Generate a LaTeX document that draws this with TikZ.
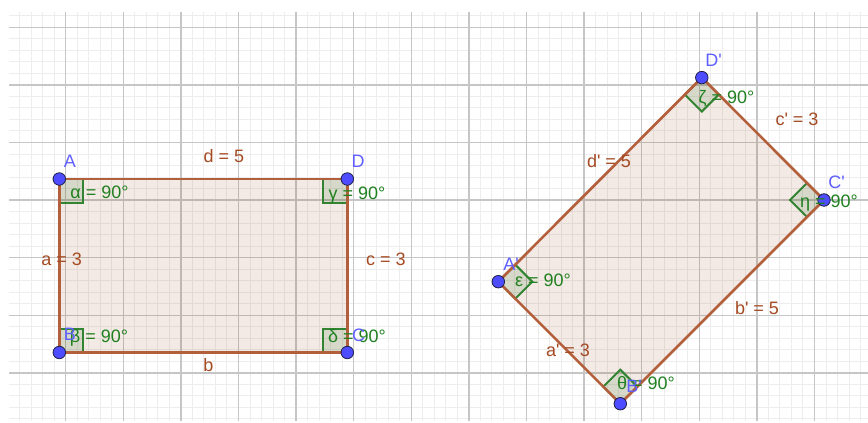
\documentclass[tikz,border=0pt]{standalone}
\usepackage{fontspec}
\setmainfont{Liberation Sans}
\newcommand\apo{\textquotesingle}
\definecolor{gridmaj}{RGB}{198,198,198}
\definecolor{gridmin}{RGB}{237,237,237}
\definecolor{polybrown}{RGB}{153,51,0}
\definecolor{edgebrown}{RGB}{180,95,60}
\definecolor{lbrown}{RGB}{165,75,35}
\definecolor{agreen}{RGB}{0,100,0}
\definecolor{astroke}{RGB}{50,132,50}
\definecolor{lgreen}{RGB}{32,128,32}
\definecolor{ptblue}{RGB}{77,77,255}
\definecolor{lblue}{RGB}{95,95,255}
\tikzset{
  gridminor/.style={draw=gridmin,line width=1pt},
  gridmajor/.style={draw=gridmaj,line width=1.4pt},
  polyfill/.style={fill=polybrown,fill opacity=0.1,draw=none},
  edge/.style={draw=edgebrown,line width=2.6pt,line join=round},
  anglesq/.style={draw=astroke,line width=2pt,fill=agreen,fill opacity=0.12,line join=miter},
  pt/.style={circle,fill=ptblue,draw={rgb,255:red,30;green,30;blue,70},line width=0.8pt,minimum size=12.5pt,inner sep=0pt},
  sidelbl/.style={text=lbrown,anchor=base,inner sep=0pt},
  anglelbl/.style={text=lgreen,anchor=base,inner sep=0pt},
  ptlbl/.style={text=lblue,anchor=base,inner sep=0pt}
}
\begin{document}
\begin{tikzpicture}[x=1pt,y=-1pt,font=\fontsize{18}{20}\selectfont]
\useasboundingbox (0,0) rectangle (868,423);
\fill[white] (0,0) rectangle (868,423);
% grid
\foreach \i in {-4,...,69}{\draw[gridminor] ({65.7+11.52*\i},12) -- ({65.7+11.52*\i},421);}
\foreach \j in {-1,...,34}{\draw[gridminor] (9,{27.3+11.52*\j}) -- (868,{27.3+11.52*\j});}
\foreach \i in {0,...,13}{\draw[gridmajor] ({65.7+57.6*\i},12) -- ({65.7+57.6*\i},421);}
\foreach \j in {0,...,6}{\draw[gridmajor] (9,{27.3+57.6*\j}) -- (868,{27.3+57.6*\j});}
% vertices
\coordinate (A) at (59.3,179);
\coordinate (D) at (347.3,179);
\coordinate (B) at (59.3,352.5);
\coordinate (C) at (347.3,352.5);
\coordinate (Ap) at (498.3,281.7);
\coordinate (Bp) at (620.3,403.7);
\coordinate (Cp) at (824,200);
\coordinate (Dp) at (701.8,77.6);
% fills
\path[polyfill] (A) -- (D) -- (C) -- (B) -- cycle;
\path[polyfill] (Ap) -- (Bp) -- (Cp) -- (Dp) -- cycle;
% right angle marks
\draw[anglesq] (A) rectangle ++(24,24);
\draw[anglesq] (D) rectangle ++(-24,24);
\draw[anglesq] (B) rectangle ++(24,-24);
\draw[anglesq] (C) rectangle ++(-24,-24);
\draw[anglesq] (Dp) -- ++(-17,17) -- ++(17,17) -- ++(17,-17) -- cycle;
\draw[anglesq] (Cp) -- ++(-17,-17) -- ++(-17,17) -- ++(17,17) -- cycle;
\draw[anglesq] (Ap) -- ++(17,-17) -- ++(17,17) -- ++(-17,17) -- cycle;
\draw[anglesq] (Bp) -- ++(-17,-17) -- ++(17,-17) -- ++(17,17) -- cycle;
% edges
\draw[edge] (A) -- (D) -- (C) -- (B) -- cycle;
\draw[edge] (Ap) -- (Bp) -- (Cp) -- (Dp) -- cycle;
% points
\node[pt] (pA) at (A) {};
\node[pt] (pB) at (B) {};
\node[pt] (pC) at (C) {};
\node[pt] (pD) at (D) {};
\node[pt] (pAp) at (Ap) {};
\node[pt] (pBp) at (Bp) {};
\node[pt] (pCp) at (Cp) {};
\node[pt] (pDp) at (Dp) {};
% side labels
\node[sidelbl] (ld) at (224,162) {d = 5};
\node[sidelbl] (la) at (61.7,265.5) {a = 3};
\node[sidelbl] (lc) at (386,265.5) {c = 3};
\node[sidelbl] (lb) at (208.5,371.5) {b};
\node[sidelbl] (lcp) at (797,125.5) {c\apo{} = 3};
\node[sidelbl] (ldp) at (609,167.5) {d\apo{} = 5};
\node[sidelbl] (lap) at (568,356.5) {a\apo{} = 3};
\node[sidelbl] (lbp) at (757,314.5) {b\apo{} = 5};
% angle labels
\node[anglelbl] (alpha) at (99.5,198.5) {α = 90°};
\node[anglelbl] (gamma) at (357,199) {γ = 90°};
\node[anglelbl] (beta) at (99,342.5) {β = 90°};
\node[anglelbl] (delta) at (357,342.5) {δ = 90°};
\node[anglelbl] (zeta) at (726.5,103.5) {ζ = 90°};
\node[anglelbl] (eta) at (829,207) {η = 90°};
\node[anglelbl] (eps) at (543,286.5) {ε = 90°};
\node[anglelbl] (theta) at (646,389.5) {θ = 90°};
% point labels
\node[ptlbl] (nA) at (70,167.5) {A};
\node[ptlbl] (nD) at (358,167.5) {D};
\node[ptlbl] (nB) at (70,340.5) {B};
\node[ptlbl] (nC) at (358.5,341.5) {C};
\node[ptlbl] (nDp) at (713.5,66.5) {D\apo};
\node[ptlbl] (nCp) at (836.5,188.5) {C\apo};
\node[ptlbl] (nAp) at (511,270.5) {A\apo};
\node[ptlbl] (nBp) at (634,392.5) {B\apo};
\end{tikzpicture}
\end{document}
